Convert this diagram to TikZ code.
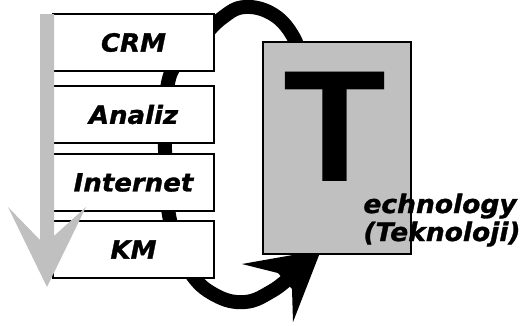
\documentclass[tikz,border=0pt]{standalone}
\usepackage{fontspec}
\setmainfont{DejaVu Sans}[BoldItalicFeatures={FakeBold=1.2, FakeStretch=1.04}]
\newfontfamily\bigfont{Liberation Sans}[FakeStretch=1.06]
\usetikzlibrary{positioning,backgrounds}
\definecolor{silver}{HTML}{C0C0C0}

\begin{document}
\begin{tikzpicture}[x=1pt, y=1pt, node distance={10pt}, thick,
    layer/.style = {draw, line width=1.5pt, fill=white, minimum width=161pt, minimum height=57pt, inner sep=0pt, font=\fontsize{25}{30}\selectfont\bfseries\itshape},
    label_t/.style = {anchor=base west, inner sep=0pt, font=\fontsize{25.5}{30}\selectfont\bfseries\itshape}]
      \useasboundingbox (0,0) rectangle (531,-325);
      \node[layer] (b_1) at (133.5,-42.5) {CRM};
      \node[layer] (b_2) [below=13.5pt of b_1] {Analiz};
      \node[layer] (b_3) [below=9.5pt of b_2] {Internet};
      \node[layer] (b_4) [below=8.5pt of b_3] {KM};

      \fill[silver] (40,-14) -- (54,-14) -- (54,-236) -- (86,-207) -- (47,-287) -- (8,-207) -- (40,-240) -- cycle;

      \node[draw, line width=1.5pt, fill=silver, minimum width=148pt, minimum height=212pt] (t_box) at (337,-148) {};
      \node[inner sep=0pt, font=\bigfont\bfseries\fontsize{159}{160}\selectfont] (t_letter) at (335,-127) {T};
      \node[label_t] (t_1) at (363,-213) {echnology};
      \node[label_t] (t_2) at (363,-241) {(Teknoloji)};

      \begin{scope}[on background layer]
        \draw[line width=14pt] plot[smooth, tension=0.7] coordinates {(300,-60) (294,-38) (274,-15) (245,-7) (222,-18) (200,-40) (176,-64) (167,-88) (165,-118) (165,-150) (166,-190) (173,-232) (190,-272) (215,-295) (245,-302) (272,-291) (290,-277)};
        \fill (321,-250) -- (242,-264) -- (278,-273) -- (292,-289) -- (293,-322) -- cycle;
      \end{scope}
    \end{tikzpicture}
\end{document}
